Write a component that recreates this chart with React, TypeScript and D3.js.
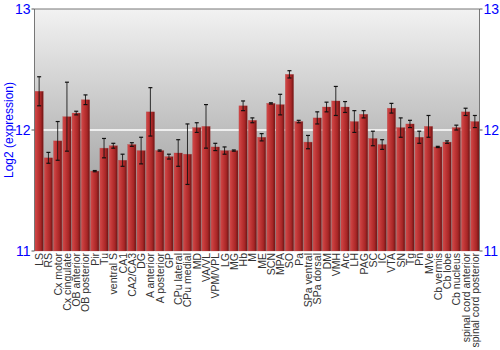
import React from "react";
import * as d3 from "d3";

const categories = ["LS","RS","Cx motor","Cx cingulate","OB anterior","OB posterior","Pir","Tu","ventral S","CA1","CA2/CA3","DG","A anterior","A posterior","GP","CPu lateral","CPu medial","MD","VA/VL","VPM/VPL","LG","MG","Hb","M","ME","SCN","MPA","SO","Pa","SPa ventral","SPa dorsal","DM","VMH","Arc","LH","PAG","SC","IC","VTA","SN","Tg","Pn","MVe","Cb vermis","Cb lobe","Cb nucleus","spinal cord anterior","spinal cord posterior"];
const values = [12.32,11.77,11.91,12.11,12.14,12.25,11.66,11.85,11.87,11.75,11.88,11.83,12.15,11.83,11.78,11.81,11.80,12.02,12.03,11.86,11.83,11.83,12.20,12.08,11.94,12.22,12.21,12.46,12.07,11.90,12.10,12.19,12.24,12.19,12.07,12.13,11.93,11.88,12.18,12.02,12.05,11.94,12.03,11.86,11.90,12.02,12.15,12.07];
const errors = [0.12,0.045,0.16,0.285,0.015,0.04,0.005,0.08,0.02,0.05,0.015,0.11,0.2,0.005,0.02,0.11,0.25,0.04,0.18,0.03,0.03,0.005,0.04,0.02,0.03,0.005,0.085,0.03,0.01,0.055,0.05,0.04,0.12,0.045,0.09,0.03,0.06,0.04,0.04,0.08,0.03,0.05,0.09,0.005,0.01,0.02,0.03,0.05];
const yTicks = [11, 12, 13];

export default function App() {
  const left = 34.5, right = 479.5, top = 9, bottom = 251;
  const x = d3.scaleBand<string>().domain(categories).range([left, right]).paddingInner(0.1).paddingOuter(0.05);
  const y = d3.scaleLinear().domain([11, 13]).range([bottom, top]);
  const blue = "#0000ff";
  return (
    <svg width={500} height={350} style={{ position: "absolute", left: 0, top: 0, fontFamily: "'Liberation Sans', Arial, sans-serif" }}>
      <defs>
        <linearGradient id="bg" x1="0" y1="0" x2="0" y2="1">
          <stop offset="0" stopColor="#f2f2f2" />
          <stop offset="1" stopColor="#8a8a8a" />
        </linearGradient>
        <linearGradient id="bar" x1="0" y1="0" x2="1" y2="0">
          <stop offset="0" stopColor="#d24a4a" />
          <stop offset="0.3" stopColor="#c23838" />
          <stop offset="0.7" stopColor="#a82626" />
          <stop offset="1" stopColor="#6a1414" />
        </linearGradient>
      </defs>
      <rect width={500} height={350} fill="#ffffff" />
      <rect x={left} y={top} width={right - left} height={bottom - top} fill="url(#bg)" />
      <line x1={left} x2={right} y1={y(12)} y2={y(12)} stroke="#ffffff" strokeWidth={1.5} />
      {categories.map((c, i) => {
        const bx = x(c)!;
        const bw = x.bandwidth();
        const v = values[i];
        const e = errors[i];
        const cx = bx + bw / 2;
        return (
          <g key={c}>
            <rect x={bx} y={y(v)} width={bw} height={bottom - y(v)} fill="url(#bar)" stroke="#b04040" strokeOpacity={0.5} strokeWidth={0.5} />
            <line x1={cx} x2={cx} y1={y(v + e)} y2={y(v - e)} stroke="#111" strokeOpacity={0.85} strokeWidth={1} />
            <line x1={cx - 2} x2={cx + 2} y1={y(v + e)} y2={y(v + e)} stroke="#111" strokeWidth={1.2} />
            <line x1={cx - 2} x2={cx + 2} y1={y(v - e)} y2={y(v - e)} stroke="#111" strokeWidth={1.2} />
            <text transform={`translate(${cx + 4},${bottom + 2}) rotate(-90)`} textAnchor="end" fontSize={10.5} fill="#333">{c}</text>
          </g>
        );
      })}
      <line x1={left} x2={right} y1={top} y2={top} stroke="#777" strokeWidth={1} />
      <line x1={left} x2={left} y1={top} y2={bottom} stroke="#777" strokeWidth={1} />
      <line x1={right} x2={right} y1={top} y2={bottom} stroke="#777" strokeWidth={1} />
      {yTicks.map((t) => (
        <g key={t}>
          <line x1={left - 3} x2={left} y1={y(t)} y2={y(t)} stroke="#555" />
          <text x={left - 4} y={y(t) + 5} textAnchor="end" fontSize={14} fill={blue}>{t}</text>
          <line x1={right} x2={right + 3} y1={y(t)} y2={y(t)} stroke="#555" />
          <text x={right + 4} y={y(t) + 5} textAnchor="start" fontSize={14} fill={blue}>{t}</text>
        </g>
      ))}
      <text transform={`translate(13,${(top + bottom) / 2}) rotate(-90)`} textAnchor="middle" fontSize={12} fill={blue}>Log2 (expression)</text>
    </svg>
  );
}
